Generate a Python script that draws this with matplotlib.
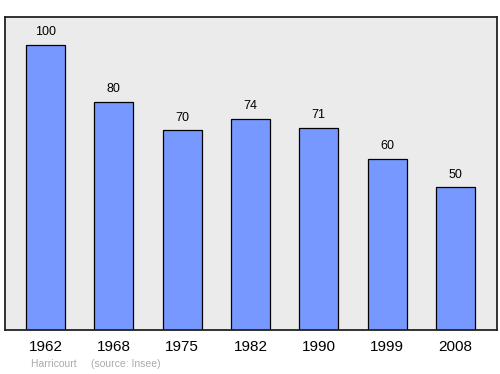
import matplotlib
matplotlib.use("Agg")
import matplotlib.pyplot as plt

plt.rcParams["font.family"] = ["Liberation Sans", "DejaVu Sans"]

years = ["1962", "1968", "1975", "1982", "1990", "1999", "2008"]
population = [100, 80, 70, 74, 71, 60, 50]
caption = "Harricourt     (source: Insee)"

fig = plt.figure(figsize=(5, 3.74), dpi=100)
ax = fig.add_axes([0.01, 0.1176, 0.984, 0.8369])
ax.set_facecolor("#ebebeb")
x = list(range(len(years)))
ax.bar(x, population, width=0.574, color="#7799ff", edgecolor="black", linewidth=0.9, zorder=2)
for xi, v in zip(x, population):
    ax.annotate(str(v), (xi, v), xytext=(0, 5), textcoords="offset points",
                ha="center", va="bottom", fontsize=9, color="black")
ax.set_xlim(-0.593, 6.608)
ax.set_ylim(0, 109.8)
ax.set_yticks([])
ax.set_xticks(x)
ax.set_xticklabels(years, fontsize=11)
ax.tick_params(axis="x", length=0, pad=7.5)
for s in ax.spines.values():
    s.set_linewidth(1.3)
    s.set_color("#222222")
fig.text(0.062, 0.027, caption, fontsize=7.5, color="#aaaaaa", ha="left", va="center")
fig.savefig("out.png", dpi=100)
